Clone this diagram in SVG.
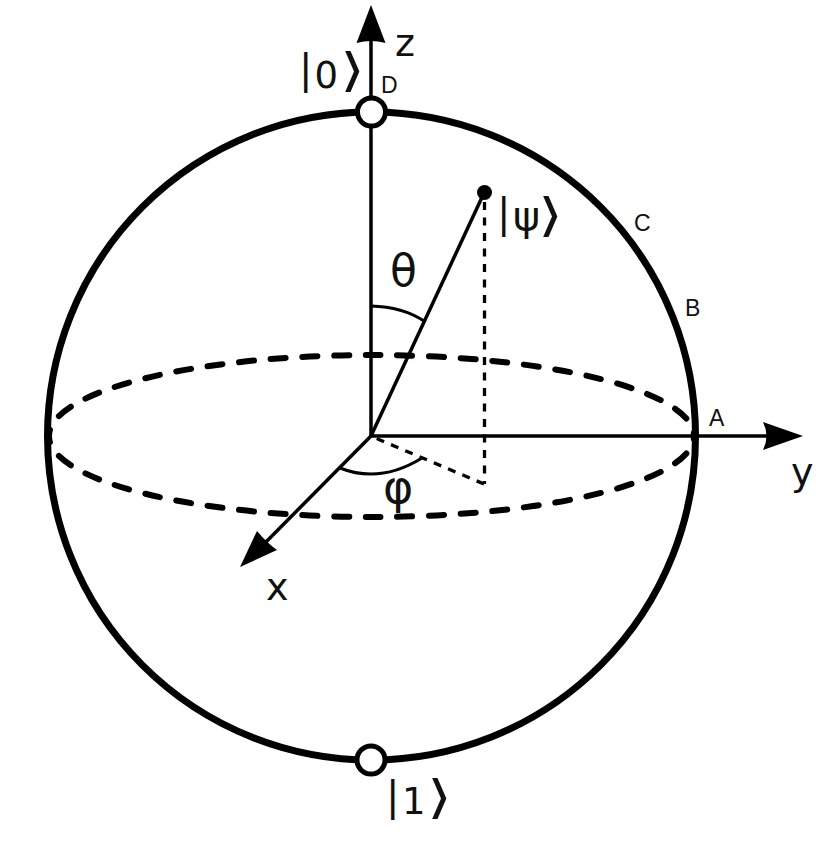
<svg xmlns="http://www.w3.org/2000/svg" width="839" height="852" viewBox="0 0 839 852">
<style>
.ax{fill:none;stroke:#000;stroke-width:3.5}
.dot{fill:none;stroke:#000;stroke-width:3.3;stroke-dasharray:8 7.500}
.eq{fill:none;stroke:#000;stroke-width:6;stroke-linecap:round;stroke-dasharray:15 16.700;stroke-dashoffset:-23}
.lab{font-family:"DejaVu Sans",sans-serif;font-size:38px;fill:#111}
.bar{font-size:40px}
.num{font-size:37px}
.psi{font-size:41px}
.br{font-size:46px}
.sm{font-family:"Liberation Sans",Arial,sans-serif;font-size:23px;fill:#111}
.head{fill:#000;stroke:none}
.arc{fill:none;stroke:#000;stroke-width:3}
.pt{fill:#fff;stroke:#000;stroke-width:5}
</style>
<rect width="839" height="852" fill="#fff"/>
<g id="equator">
<path class="eq" d="M49 436A322.500 81 0 0 1 694 436"/>
<path class="eq" d="M49 436A322.500 81 0 0 0 694 436"/>
</g>
<g id="sphere"><circle cx="371.500" cy="436" r="324" fill="none" stroke="#000" stroke-width="7"/></g>
<g id="connectors">
<path class="ax" d="M371 436V40"/>
<path class="ax" d="M371 436H775"/>
<path class="ax" d="M371 436L262 546"/>
<path class="ax" d="M371 436L484 193"/>
<path class="dot" d="M484.500 202V484"/>
<path class="dot" d="M484 484L373 437"/>
<path class="arc" d="M371 306Q403 307 424 321"/>
<path class="arc" d="M340 468Q380 484 422 458"/>
<path class="head" d="M371 5L385.500 43Q371 39 356.500 43Z"/>
<path class="head" d="M803 436L763 422Q770 436 763 450Z"/>
<path class="head" d="M240 567L257 531Q267 543 277 550Z"/>
</g>
<g id="node-psi"><circle cx="484.500" cy="192.500" r="7.500"/><text class="lab bar" x="497" y="227">|</text><text class="lab psi" x="513" y="230">ψ</text><text class="lab br" transform="translate(538 231) scale(1.4 1)">⟩</text></g>
<g id="node-0"><circle class="pt" cx="371.500" cy="112" r="14"/><text class="lab bar" x="299" y="83">|</text><text class="lab num" x="314.500" y="88">0</text><text class="lab br" transform="translate(340 86) scale(1.4 1)">⟩</text></g>
<g id="node-1"><circle class="pt" cx="371" cy="760" r="14"/><text class="lab bar" x="386" y="810">|</text><text class="lab num" x="402" y="814">1</text><text class="lab br" transform="translate(427 813) scale(1.4 1)">⟩</text></g>
<g id="labels">
<text class="lab" x="395" y="56">z</text>
<text class="lab" x="791" y="485">y</text>
<text class="lab" x="266" y="600">x</text>
<text class="lab" x="390" y="286" style="font-size:44px">θ</text>
<text class="lab" x="383" y="503" style="font-size:46px">φ</text>
<text class="sm" x="381" y="93">D</text>
<text class="sm" x="634" y="231">C</text>
<text class="sm" x="685" y="316">B</text>
<text class="sm" x="709" y="426">A</text>
</g>
</svg>
